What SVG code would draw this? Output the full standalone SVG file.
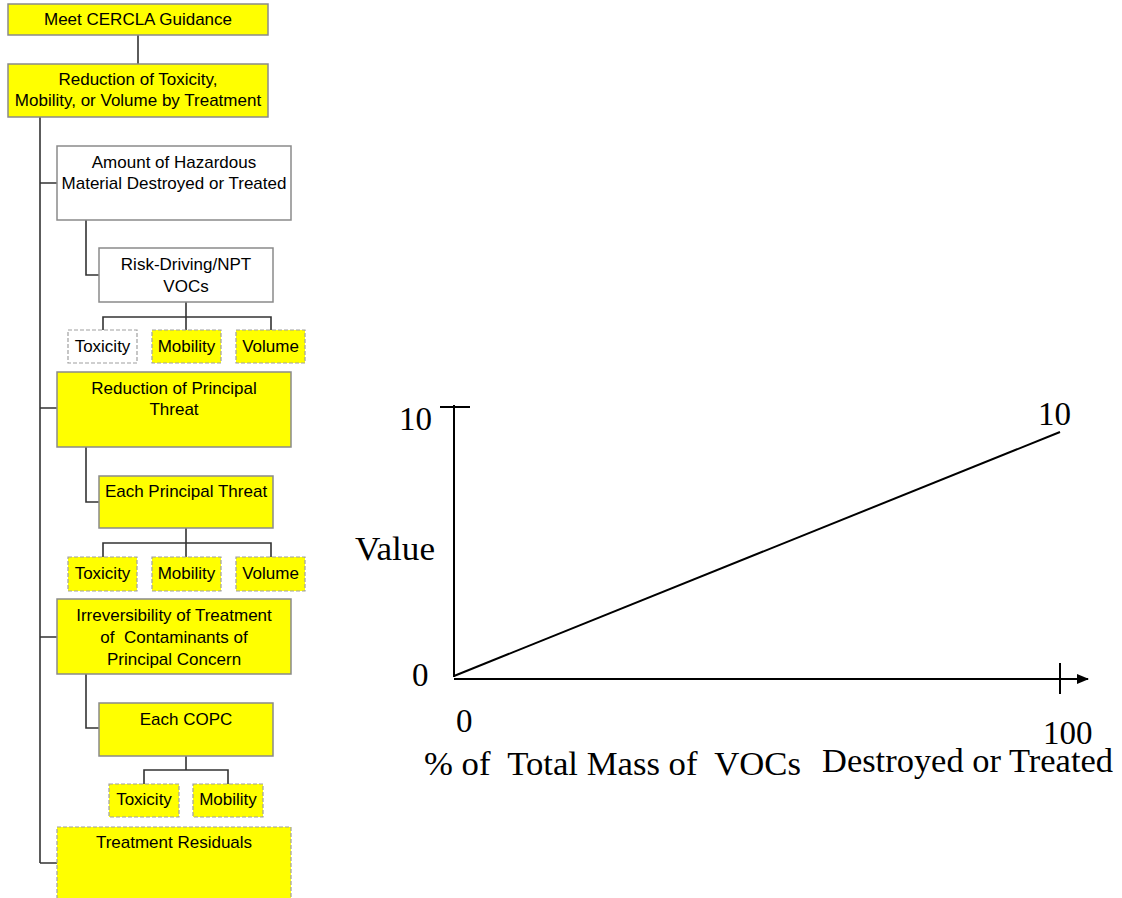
<svg xmlns="http://www.w3.org/2000/svg" width="1122" height="898" viewBox="0 0 1122 898">
  <style>
    .box { fill: #ffff00; stroke: #8a8a8a; stroke-width: 1.5; }
    .wbox { fill: #ffffff; stroke: #8a8a8a; stroke-width: 1.5; }
    .leaf { fill: #ffff00; stroke: #a0a0a0; stroke-width: 1.2; stroke-dasharray: 4 2; }
    .wleaf { fill: #ffffff; stroke: #a0a0a0; stroke-width: 1.2; stroke-dasharray: 4 2; }
    .lbl { font-family: "Liberation Sans", Arial, sans-serif; font-size: 17px; fill: #000; text-anchor: middle; white-space: pre; }
    .conn { fill: none; stroke: #333333; stroke-width: 1.6; }
    .axis { fill: none; stroke: #000; stroke-width: 2; }
    .ct { font-family: "Liberation Serif", "Times New Roman", serif; font-size: 33px; fill: #000; white-space: pre; }
  </style>
  <defs>
    <marker id="arrow" viewBox="0 0 12 10" refX="11" refY="5" markerWidth="12" markerHeight="10" markerUnits="userSpaceOnUse" orient="auto">
      <path d="M0,0 L12,5 L0,10 Z" fill="#000"/>
    </marker>
  </defs>

  <!-- tree connectors -->
  <g id="connectors">
    <path class="conn" d="M138,35 V64"/>
    <path class="conn" d="M40,117 V863"/>
    <path class="conn" d="M40,183 H57 M40,408 H57 M40,637 H57 M40,863 H57"/>
    <path class="conn" d="M86,220 V275 H99"/>
    <path class="conn" d="M186,302 V317 M103,330 V317 H271 V330 M186,317 V330"/>
    <path class="conn" d="M86,447 V502 H99"/>
    <path class="conn" d="M186,528 V543 M103,557 V543 H271 V557 M186,543 V557"/>
    <path class="conn" d="M86,674 V728 H99"/>
    <path class="conn" d="M186,756 V770 M144,784 V770 H228 V784"/>
  </g>

  <g id="meet-cercla">
    <rect class="box" x="8" y="4" width="260" height="31"/>
    <text class="lbl" x="138" y="25">Meet CERCLA Guidance</text>
  </g>
  <g id="reduction-tmv">
    <rect class="box" x="8" y="64" width="260" height="53"/>
    <text class="lbl" x="138" y="85">Reduction of Toxicity,</text>
    <text class="lbl" x="138" y="106">Mobility, or Volume by Treatment</text>
  </g>

  <g id="amount-hazardous">
    <rect class="wbox" x="57" y="146" width="234" height="74"/>
    <text class="lbl" x="174" y="168">Amount of Hazardous</text>
    <text class="lbl" x="174" y="189">Material Destroyed or Treated</text>
  </g>
  <g id="risk-driving">
    <rect class="wbox" x="99" y="248" width="174" height="54"/>
    <text class="lbl" x="186" y="270">Risk-Driving/NPT</text>
    <text class="lbl" x="186" y="292">VOCs</text>
  </g>
  <g id="risk-toxicity">
    <rect class="wleaf" x="68" y="330" width="69" height="33"/>
    <text class="lbl" x="102.5" y="352">Toxicity</text>
  </g>
  <g id="risk-mobility">
    <rect class="leaf" x="152" y="330" width="69" height="33"/>
    <text class="lbl" x="186.5" y="352">Mobility</text>
  </g>
  <g id="risk-volume">
    <rect class="leaf" x="236" y="330" width="69" height="33"/>
    <text class="lbl" x="270.5" y="352">Volume</text>
  </g>

  <g id="principal-threat">
    <rect class="box" x="57" y="372" width="234" height="75"/>
    <text class="lbl" x="174" y="394">Reduction of Principal</text>
    <text class="lbl" x="174" y="415">Threat</text>
  </g>
  <g id="each-threat">
    <rect class="box" x="99" y="476" width="174" height="52"/>
    <text class="lbl" x="186" y="497">Each Principal Threat</text>
  </g>
  <g id="threat-toxicity">
    <rect class="leaf" x="68" y="557" width="69" height="34"/>
    <text class="lbl" x="102.5" y="579">Toxicity</text>
  </g>
  <g id="threat-mobility">
    <rect class="leaf" x="152" y="557" width="69" height="34"/>
    <text class="lbl" x="186.5" y="579">Mobility</text>
  </g>
  <g id="threat-volume">
    <rect class="leaf" x="236" y="557" width="69" height="34"/>
    <text class="lbl" x="270.5" y="579">Volume</text>
  </g>

  <g id="irreversibility">
    <rect class="box" x="57" y="599" width="234" height="75"/>
    <text class="lbl" x="174" y="621">Irreversibility of Treatment</text>
    <text class="lbl" x="174" y="643">of  Contaminants of</text>
    <text class="lbl" x="174" y="665">Principal Concern</text>
  </g>
  <g id="each-copc">
    <rect class="box" x="99" y="703" width="174" height="53"/>
    <text class="lbl" x="186" y="725">Each COPC</text>
  </g>
  <g id="copc-toxicity">
    <rect class="leaf" x="109" y="784" width="70" height="33"/>
    <text class="lbl" x="144" y="805">Toxicity</text>
  </g>
  <g id="copc-mobility">
    <rect class="leaf" x="193" y="784" width="70" height="33"/>
    <text class="lbl" x="228" y="805">Mobility</text>
  </g>

  <g id="treatment-residuals">
    <rect class="leaf" x="57" y="827" width="234" height="90"/>
    <text class="lbl" x="174" y="848">Treatment Residuals</text>
  </g>

  <!-- value function chart -->
  <g id="chart">
    <path class="axis" d="M454,405 V677"/>
    <path class="axis" d="M440,407 H470"/>
    <path class="axis" d="M454,679 H1088" marker-end="url(#arrow)"/>
    <path class="axis" d="M1060,663 V694"/>
    <path class="axis" d="M454,676 L1060,432"/>
    <text class="ct" x="399" y="430">10</text>
    <text class="ct" x="355" y="560" textLength="80" lengthAdjust="spacingAndGlyphs">Value</text>
    <text class="ct" x="412" y="686">0</text>
    <text class="ct" x="456" y="732">0</text>
    <text class="ct" x="1038" y="425">10</text>
    <text class="ct" x="1043" y="744">100</text>
    <text class="ct" x="424" y="775" style="font-size:34px" textLength="377" lengthAdjust="spacingAndGlyphs">% of  Total Mass of  VOCs</text>
    <text class="ct" x="822" y="772" style="font-size:34px" textLength="291" lengthAdjust="spacingAndGlyphs">Destroyed or Treated</text>
  </g>
</svg>
